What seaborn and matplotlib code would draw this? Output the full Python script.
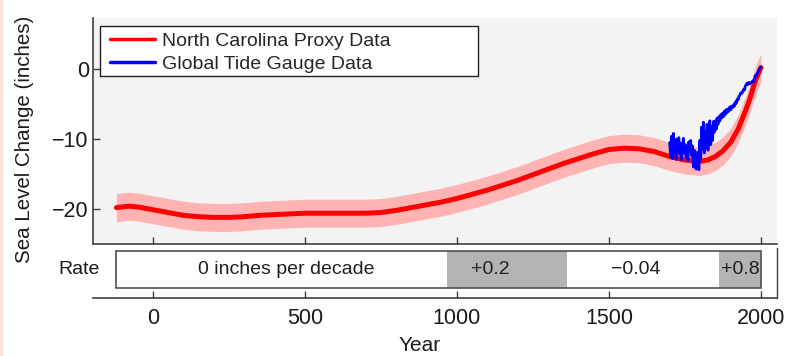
import matplotlib
matplotlib.use("Agg")
import matplotlib.pyplot as plt
from matplotlib.patches import Rectangle
import seaborn as sns
import pandas as pd

# North Carolina proxy reconstruction (inches)
proxy_years = [-120, -100, -80, -50, 0, 50, 100, 150, 200, 250, 300, 350, 400, 450,
               500, 550, 600, 650, 700, 750, 800, 850, 900, 950, 1000, 1050, 1100,
               1150, 1200, 1250, 1300, 1350, 1400, 1450, 1500, 1550, 1600, 1650,
               1700, 1750, 1800, 1825, 1850, 1875, 1900, 1925, 1950, 1965, 1980,
               1990, 2000]
proxy_level = [-19.8, -19.7, -19.6, -19.7, -20.1, -20.5, -20.9, -21.1, -21.2, -21.2,
               -21.1, -20.9, -20.8, -20.7, -20.6, -20.6, -20.6, -20.6, -20.6, -20.5,
               -20.2, -19.8, -19.4, -19.0, -18.5, -17.9, -17.3, -16.6, -15.9, -15.1,
               -14.3, -13.5, -12.8, -12.1, -11.5, -11.3, -11.4, -11.8, -12.5, -13.0,
               -13.2, -13.0, -12.5, -11.7, -10.5, -8.6, -5.9, -4.1, -1.9, -0.8, 0.2]
proxy_err = 2.0

# global tide gauge record, every 3 years from 1700 to 2000
gauge_years = list(range(1700, 2001, 3))
gauge_level = [-10.5, -12.5, -9.6, -12.8, -9.2, -11.9, -10.1, -12.9, -10.0, -11.4,
               -9.8, -12.2, -10.6, -13.0, -11.2, -9.9, -12.0, -10.8, -12.6, -11.1,
               -13.1, -10.4, -11.8, -10.2, -12.4, -11.0, -14.0, -11.6, -13.2, -14.3,
               -11.9, -13.6, -14.4, -10.2, -12.9, -8.3, -11.5, -7.6, -12.0, -8.9,
               -11.2, -7.9, -11.6, -8.6, -7.4, -10.8, -8.2, -10.2, -7.5, -9.0,
               -7.4, -8.6, -7.0, -7.9, -6.8, -7.4, -6.5, -7.0, -6.3, -6.8,
               -6.0, -6.5, -5.8, -6.2, -5.7, -6.0, -5.4, -5.8, -5.3, -5.5,
               -5.1, -5.3, -4.7, -4.9, -4.3, -4.4, -3.9, -3.7, -3.4, -3.5,
               -3.2, -2.9, -3.0, -2.4, -2.2, -2.0, -2.2, -1.9, -2.1, -2.0,
               -1.9, -1.7, -1.8, -1.4, -0.9, -1.0, -0.6, -0.4, -0.1, 0.2,
               0.3]

# rate of change bar
rate_edges = [-120, 966, 1363, 1863, 2000]
rate_labels = ["0 inches per decade", "+0.2", "\u22120.04", "+0.8"]
rate_label_x = [440, 1110, 1590, 1931]
rate_colors = ["white", "#b3b3b3", "white", "#b3b3b3"]

x_ticks = [0, 500, 1000, 1500, 2000]
y_ticks = [-20, -10, 0]

sns.set_style("ticks")
plt.rcParams["font.family"] = ["Liberation Sans", "DejaVu Sans"]
plt.rcParams["axes.edgecolor"] = "#404040"
plt.rcParams["xtick.color"] = "#404040"
plt.rcParams["ytick.color"] = "#404040"
plt.rcParams["xtick.labelcolor"] = "#1a1a1a"
plt.rcParams["ytick.labelcolor"] = "#1a1a1a"

fig = plt.figure(figsize=(7.94, 3.56), dpi=100)
ax = fig.add_axes([93 / 794, 1 - 244 / 356, 684 / 794, 226 / 356])
ax_rate = fig.add_axes([93 / 794, 1 - 298 / 356, 684 / 794, 50 / 356])

proxy = pd.DataFrame({"year": proxy_years, "level": proxy_level})
gauge = pd.DataFrame({"year": gauge_years, "level": gauge_level})

ax.set_facecolor("#f3f3f3")
ax.fill_between(proxy["year"], proxy["level"] - proxy_err, proxy["level"] + proxy_err,
                color="#ffb3b3", linewidth=0, zorder=1)
sns.lineplot(data=proxy, x="year", y="level", ax=ax, color="#ff0000", lw=3.6,
             estimator=None, sort=False, label="North Carolina Proxy Data", zorder=2)
sns.lineplot(data=gauge, x="year", y="level", ax=ax, color="#0000ff", lw=2.0,
             estimator=None, sort=False, label="Global Tide Gauge Data", zorder=3)

ax.set_xlim(-197, 2053)
ax.set_ylim(-25, 7.3)
ax.set_xticks(x_ticks)
ax.set_xticklabels([])
ax.set_yticks(y_ticks)
ax.set_yticklabels(["\u221220", "\u221210", "0"])
ax.tick_params(direction="in", length=5, width=1, labelsize=15.5, pad=3)
ax.set_xlabel("")
ax.set_ylabel("Sea Level Change (inches)", fontsize=14.8, color="#1a1a1a")
ax.yaxis.set_label_coords(-0.086, 0.465)
for s in ["top", "right"]:
    ax.spines[s].set_visible(False)
for s in ["left", "bottom"]:
    ax.spines[s].set_linewidth(1.2)

# legend: square white box drawn separately, entries placed inside it
ax.add_patch(Rectangle((7 / 684, 168 / 226), 378 / 684, 50 / 226, transform=ax.transAxes,
                       facecolor="white", edgecolor="#202020", lw=1.0, zorder=4))
leg = ax.legend(loc="upper left", bbox_to_anchor=(17 / 684, 212 / 226), borderaxespad=0,
                fontsize=14, frameon=False, handlelength=2.3, handletextpad=0.4,
                labelspacing=0.3, borderpad=0)
leg.set_zorder(5)
for h in leg.get_lines():
    h.set_linewidth(2.5)

# rate bar
ax_rate.set_xlim(-197, 2053)
ax_rate.set_ylim(0, 1)
box_lo, box_hi = 10 / 50, 47 / 50
for i, lab in enumerate(rate_labels):
    x0, x1 = rate_edges[i], rate_edges[i + 1]
    ax_rate.add_patch(Rectangle((x0, box_lo), x1 - x0, box_hi - box_lo,
                                facecolor=rate_colors[i], edgecolor="none", zorder=1))
    ax_rate.text(rate_label_x[i], (box_lo + box_hi) / 2, lab, ha="center", va="center",
                 fontsize=14, color="#202020", zorder=3)
ax_rate.add_patch(Rectangle((rate_edges[0], box_lo), rate_edges[-1] - rate_edges[0],
                            box_hi - box_lo, facecolor="none", edgecolor="#505050",
                            lw=1.2, zorder=2))
ax_rate.text(0.0102, (box_lo + box_hi) / 2, "Rate", transform=ax_rate.transAxes,
             ha="right", va="center", fontsize=14, color="#1a1a1a")
ax_rate.set_xticks(x_ticks)
ax_rate.set_yticks([])
ax_rate.tick_params(axis="x", direction="in", length=5, width=1, labelsize=15.5, pad=7)
ax_rate.set_xlabel("Year", fontsize=15, color="#1a1a1a")
ax_rate.xaxis.set_label_coords(0.478, -0.76)
ax_rate.spines["left"].set_visible(False)
ax_rate.spines["top"].set_visible(False)
ax_rate.spines["bottom"].set_linewidth(1.2)
ax_rate.spines["right"].set_linewidth(1.0)
ax_rate.patch.set_visible(False)

# thin peach strip at the left edge of the screenshot
fig.patches.append(Rectangle((0, 0), 3 / 794, 1, transform=fig.transFigure,
                             facecolor="#fde3d8", edgecolor="none"))

fig.savefig("out.png", dpi=100)
